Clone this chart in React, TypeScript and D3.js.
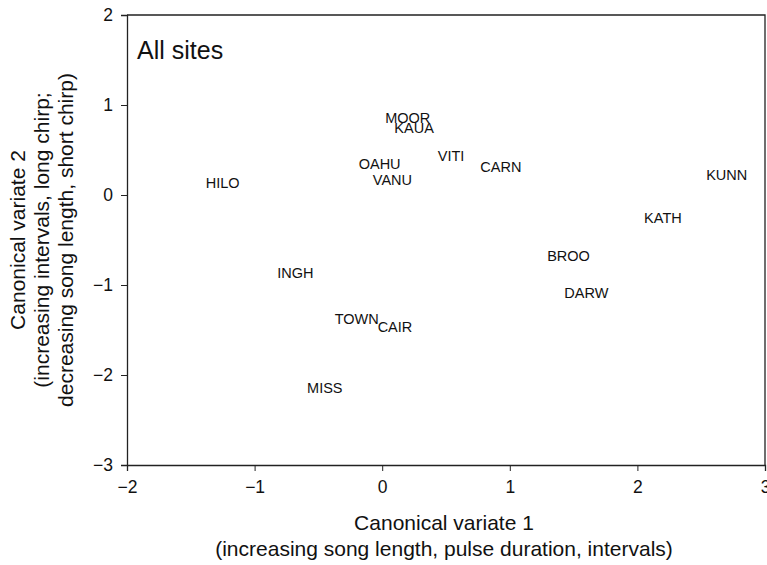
import * as d3 from "d3";
import { useEffect, useRef } from "react";

// site positions on the two canonical variates
const sites = ["HILO", "MOOR", "KAUA", "OAHU", "VANU", "VITI", "CARN", "KUNN", "KATH", "BROO", "DARW", "INGH", "TOWN", "CAIR", "MISS"];
const cv1 = [-1.25, 0.2, 0.25, -0.02, 0.08, 0.54, 0.93, 2.7, 2.2, 1.46, 1.6, -0.68, -0.2, 0.1, -0.45];
const cv2 = [0.13, 0.86, 0.74, 0.35, 0.17, 0.43, 0.31, 0.22, -0.26, -0.68, -1.09, -0.87, -1.38, -1.47, -2.14];

const xTicks = [-2, -1, 0, 1, 2, 3];
const yTicks = [-3, -2, -1, 0, 1, 2];

const FONT = "'Liberation Sans', Arial, Helvetica, sans-serif";

const App = () => {
  const svgRef = useRef<SVGSVGElement>(null);

  useEffect(() => {
    const W = 767;
    const H = 565;
    const margin = { top: 15, right: 2, bottom: 100, left: 127 };
    const width = W - margin.left - margin.right;
    const height = H - margin.top - margin.bottom;

    const root = d3.select(svgRef.current).attr("width", W).attr("height", H);
    root.selectAll("*").remove();

    const svg = root.append("g").attr("transform", `translate(${margin.left}, ${margin.top})`);

    const x = d3.scaleLinear().domain([-2, 3]).range([0, width]);
    const y = d3.scaleLinear().domain([-3, 2]).range([height, 0]);

    const fmt = (d: d3.NumberValue) => (+d < 0 ? "\u2212" + Math.abs(+d) : String(d));

    const xAxis = svg
      .append("g")
      .attr("transform", `translate(0, ${height})`)
      .call(d3.axisBottom(x).tickValues(xTicks).tickSize(6).tickPadding(10).tickFormat(fmt));

    const yAxis = svg
      .append("g")
      .call(d3.axisLeft(y).tickValues(yTicks).tickSize(6).tickPadding(8).tickFormat(fmt));

    [xAxis, yAxis].forEach((a) => {
      a.select(".domain").attr("stroke", "#222").attr("stroke-width", 1.3);
      a.selectAll(".tick line").attr("stroke", "#222");
      a.selectAll(".tick text").attr("font-family", FONT).attr("font-size", 17.5).attr("fill", "#111");
    });

    // top and right frame
    svg
      .append("path")
      .attr("d", `M0,0H${width}V${height}`)
      .attr("fill", "none")
      .attr("stroke", "#222")
      .attr("stroke-width", 1.3);

    svg
      .append("text")
      .attr("x", 10)
      .attr("y", 44)
      .attr("font-family", FONT)
      .attr("font-size", 25)
      .attr("fill", "#111")
      .text("All sites");

    svg
      .selectAll(".site")
      .data(sites)
      .enter()
      .append("text")
      .attr("class", "site")
      .attr("x", (d, i) => x(cv1[i]))
      .attr("y", (d, i) => y(cv2[i]))
      .attr("dy", "0.35em")
      .attr("text-anchor", "middle")
      .attr("font-family", FONT)
      .attr("font-size", 14.5)
      .attr("fill", "#111")
      .text((d) => d);

    // x title
    const xt = svg
      .append("text")
      .attr("text-anchor", "middle")
      .attr("font-family", FONT)
      .attr("font-size", 21)
      .attr("fill", "#111");
    xt.append("tspan").attr("x", width / 2 - 2).attr("y", height + 65).text("Canonical variate 1");
    xt.append("tspan")
      .attr("x", width / 2 - 2)
      .attr("y", height + 91)
      .text("(increasing song length, pulse duration, intervals)");

    // y title
    const yt = svg
      .append("text")
      .attr("transform", "rotate(-90)")
      .attr("text-anchor", "middle")
      .attr("font-family", FONT)
      .attr("font-size", 21)
      .attr("fill", "#111");
    const yLines = [
      "Canonical variate 2",
      "(increasing intervals, long chirp;",
      "decreasing song length, short chirp)",
    ];
    yLines.forEach((t, i) => {
      yt.append("tspan")
        .attr("x", -height / 2)
        .attr("y", -margin.left + 25 + i * 24)
        .text(t);
    });
  }, []);

  return <svg ref={svgRef} style={{ position: "absolute", left: 0, top: 0, background: "#fff" }}></svg>;
};

export default App;
